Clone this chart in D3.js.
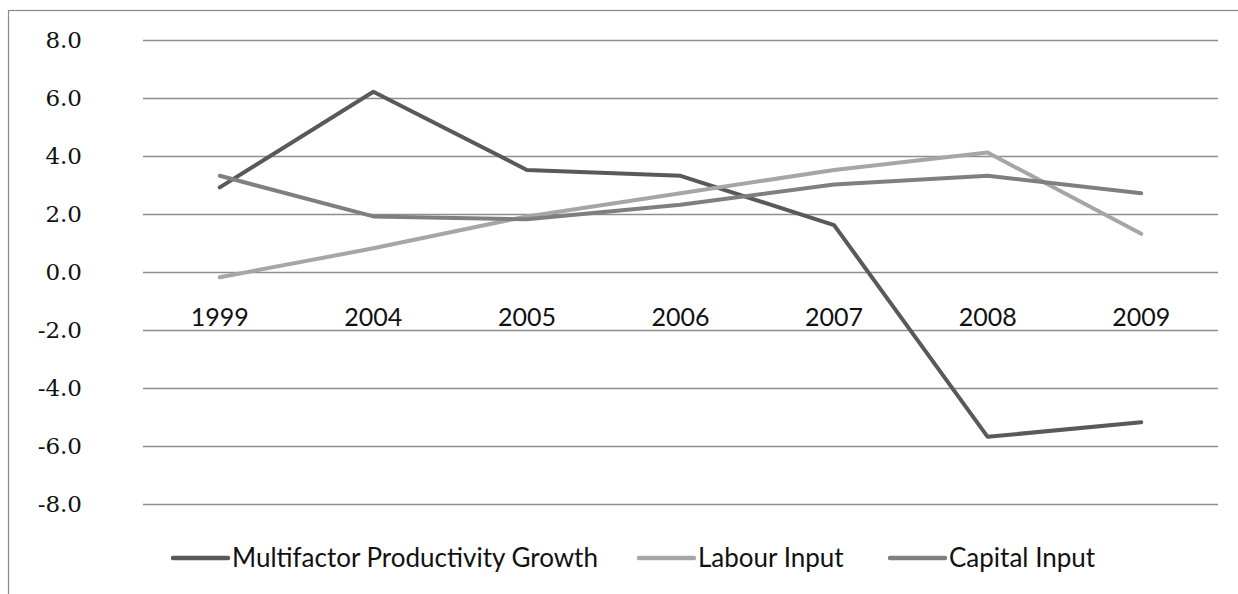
<!DOCTYPE html>
<html>
<head>
<meta charset="utf-8">
<script src="https://cdn.jsdelivr.net/npm/d3@7"></script>
<style>
  html, body { margin: 0; padding: 0; background: #ffffff; }
  svg { display: block; }
  .val-label { font-family: "DejaVu Serif", serif; }
</style>
</head>
<body>
<svg id="chart" width="1238" height="594"></svg>
<script>
// Categories and series (percent growth)
const years = ["1999", "2004", "2005", "2006", "2007", "2008", "2009"];
const multifactor = [2.9, 6.2, 3.5, 3.3, 1.6, -5.7, -5.2];
const labour = [-0.2, 0.8, 1.9, 2.7, 3.5, 4.1, 1.3];
const capital = [3.3, 1.9, 1.8, 2.3, 3.0, 3.3, 2.7];
const yTicks = [8, 6, 4, 2, 0, -2, -4, -6, -8];
const seriesNames = ["Multifactor Productivity Growth", "Labour Input", "Capital Input"];

const series = [
  { name: seriesNames[0], values: multifactor, color: "#595959" },
  { name: seriesNames[1], values: labour, color: "#a6a6a6" },
  { name: seriesNames[2], values: capital, color: "#7f7f7f" }
];

const svg = d3.select("#chart");

// Outer chart frame (extends past the right and bottom edges)
svg.append("rect")
  .attr("x", 8.5).attr("y", 10.5)
  .attr("width", 1260).attr("height", 620)
  .attr("fill", "none")
  .attr("stroke", "#8a8a8a")
  .attr("stroke-width", 1.2);

const x = d3.scaleBand().domain(years).range([143, 1218]);
const y = d3.scaleLinear().domain([-8, 8]).range([503.5, 39.5]);

// Horizontal gridlines
svg.append("g")
  .selectAll("line")
  .data(yTicks)
  .join("line")
  .attr("x1", 143).attr("x2", 1218)
  .attr("y1", d => Math.round(y(d)) + 0.5)
  .attr("y2", d => Math.round(y(d)) + 0.5)
  .attr("stroke", "#8e8e8e")
  .attr("stroke-width", 1.3);

// Value axis labels, one decimal with a plain hyphen for negatives
const fmt = d => (d < 0 ? "-" : "") + Math.abs(d).toFixed(1);
svg.append("g")
  .selectAll("text")
  .data(yTicks)
  .join("text")
  .attr("class", "val-label")
  .attr("x", 82)
  .attr("y", d => y(d))
  .attr("dy", "0.36em")
  .attr("text-anchor", "end")
  .attr("font-size", 23)
  .attr("fill", "#111")
  .text(fmt);

// Category labels sit just below the zero line
svg.append("g")
  .selectAll("text")
  .data(years)
  .join("text")
  .attr("x", d => x(d) + x.bandwidth() / 2)
  .attr("y", y(0) + 54)
  .attr("text-anchor", "middle")
  .style("font-family", "Lato, sans-serif")
  .attr("font-size", 25)
  .attr("fill", "#111")
  .text(d => d);

// Series lines
const line = d3.line()
  .x((d, i) => x(years[i]) + x.bandwidth() / 2)
  .y(d => y(d));

svg.append("g")
  .selectAll("path")
  .data(series)
  .join("path")
  .attr("d", d => line(d.values))
  .attr("fill", "none")
  .attr("stroke", d => d.color)
  .attr("stroke-width", 4)
  .attr("stroke-linejoin", "round")
  .attr("stroke-linecap", "round");

// Legend
const legendX = [173, 639, 890];
const legend = svg.append("g")
  .selectAll("g")
  .data(series)
  .join("g")
  .attr("transform", (d, i) => `translate(${legendX[i]},558)`);

legend.append("line")
  .attr("x1", 0).attr("x2", 55)
  .attr("y1", 0).attr("y2", 0)
  .attr("stroke", d => d.color)
  .attr("stroke-width", 4.5)
  .attr("stroke-linecap", "round");

legend.append("text")
  .attr("x", 59)
  .attr("y", 9)
  .style("font-family", "Lato, sans-serif")
  .attr("font-size", 26)
  .attr("fill", "#111")
  .text(d => d.name);
</script>
</body>
</html>
